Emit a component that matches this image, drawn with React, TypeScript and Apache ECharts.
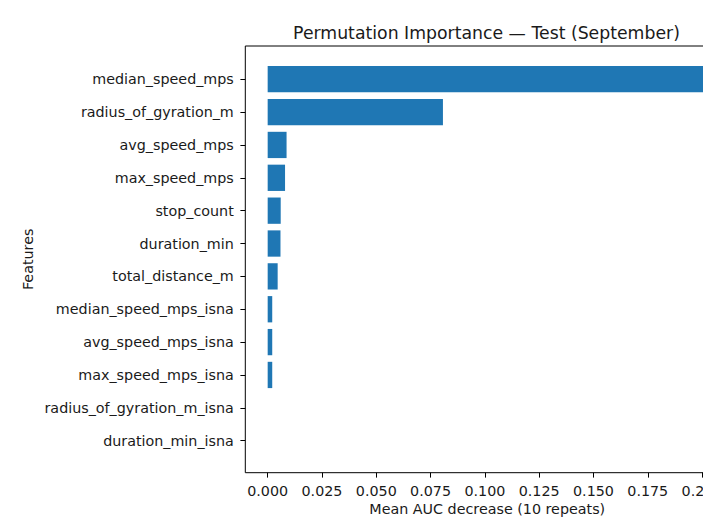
import React, { useEffect, useRef } from "react";
import * as echarts from "echarts";

const categories: string[] = [
  "median_speed_mps",
  "radius_of_gyration_m",
  "avg_speed_mps",
  "max_speed_mps",
  "stop_count",
  "duration_min",
  "total_distance_m",
  "median_speed_mps_isna",
  "avg_speed_mps_isna",
  "max_speed_mps_isna",
  "radius_of_gyration_m_isna",
  "duration_min_isna",
];

const importance: number[] = [
  0.206, 0.0807, 0.0087, 0.008, 0.006, 0.0059, 0.0046, 0.0021, 0.0021, 0.0021, 0, 0,
];

const xTickLabels: string[] = [
  "0.000", "0.025", "0.050", "0.075", "0.100", "0.125", "0.150", "0.175", "0.200",
];

const titleText = "Permutation Importance — Test (September)";
const xName = "Mean AUC decrease (10 repeats)";
const yName = "Features";

const X_MIN = -0.0103;
const X_MAX = 0.2125;
const FONT = "DejaVu Sans";
const TEXT = "#1a1a1a";

export default function App() {
  const ref = useRef<HTMLDivElement>(null);
  useEffect(() => {
    if (!ref.current) return;
    const chart = echarts.init(ref.current, null, { renderer: "svg" });
    const frameLeft = 245.3;
    const right = -26.2;
    const option: any = {
      animation: false,
      backgroundColor: "#ffffff",
      title: {
        text: titleText,
        left: 481.5,
        top: 19,
        textAlign: "center",
        textStyle: { fontFamily: FONT, fontSize: 17.3, fontWeight: "normal", color: TEXT },
      },
      grid: [
        { left: frameLeft, right, top: 46, bottom: 44.3, outerBoundsMode: "none", containLabel: false, show: true, borderColor: "#000", borderWidth: 1, backgroundColor: "transparent" },
        { left: frameLeft, right, top: 62.8, bottom: 59.9, outerBoundsMode: "none", containLabel: false },
        { left: 267.7, right, top: 46, bottom: 44.3, outerBoundsMode: "none", containLabel: false },
      ],
      xAxis: [
        {
          gridIndex: 0, type: "value", min: X_MIN, max: X_MAX,
          axisLine: { show: false }, axisTick: { show: false }, axisLabel: { show: false }, splitLine: { show: false },
          name: xName, nameLocation: "middle", nameGap: 29,
          nameTextStyle: { fontFamily: FONT, fontSize: 14.3, color: TEXT },
        },
        {
          gridIndex: 1, type: "value", min: X_MIN, max: X_MAX,
          axisLine: { show: false }, axisTick: { show: false }, axisLabel: { show: false }, splitLine: { show: false },
        },
        {
          gridIndex: 2, type: "value", min: 0, max: X_MAX, interval: 0.025,
          axisLine: { show: false },
          axisTick: { show: true, inside: false, length: 4.9, lineStyle: { color: "#000", width: 1 } },
          axisLabel: {
            show: true, margin: 11, fontFamily: FONT, fontSize: 14.3, color: TEXT,
            formatter: (v: number) => {
              const i = Math.round(v / 0.025);
              return xTickLabels[i] ?? "";
            },
            showMaxLabel: false,
          },
          splitLine: { show: false },
        },
      ],
      yAxis: [
        {
          gridIndex: 0, type: "value", min: 0, max: 1,
          axisLine: { show: false }, axisTick: { show: false }, axisLabel: { show: false }, splitLine: { show: false },
          name: yName, nameLocation: "middle", nameGap: 210,
          nameTextStyle: { fontFamily: FONT, fontSize: 14.3, color: TEXT },
        },
        {
          gridIndex: 1, type: "category", data: categories, inverse: true,
          position: "left",
          axisLine: { show: false, onZero: false },
          axisTick: { show: true, alignWithLabel: true, length: 4.9, lineStyle: { color: "#000", width: 1 } },
          axisLabel: { show: true, margin: 11.5, fontFamily: FONT, fontSize: 14.3, color: TEXT },
          splitLine: { show: false },
        },
        {
          gridIndex: 2, type: "value", show: false,
        },
      ],
      series: [
        {
          type: "bar",
          xAxisIndex: 1,
          yAxisIndex: 1,
          data: importance,
          barWidth: "80%",
          itemStyle: { color: "#1f77b4" },
        },
      ],
    };
    chart.setOption(option);
    return () => chart.dispose();
  }, []);
  return (
    <div
      ref={ref}
      style={{ position: "absolute", left: 0, top: 0, width: 703, height: 517 }}
    />
  );
}
